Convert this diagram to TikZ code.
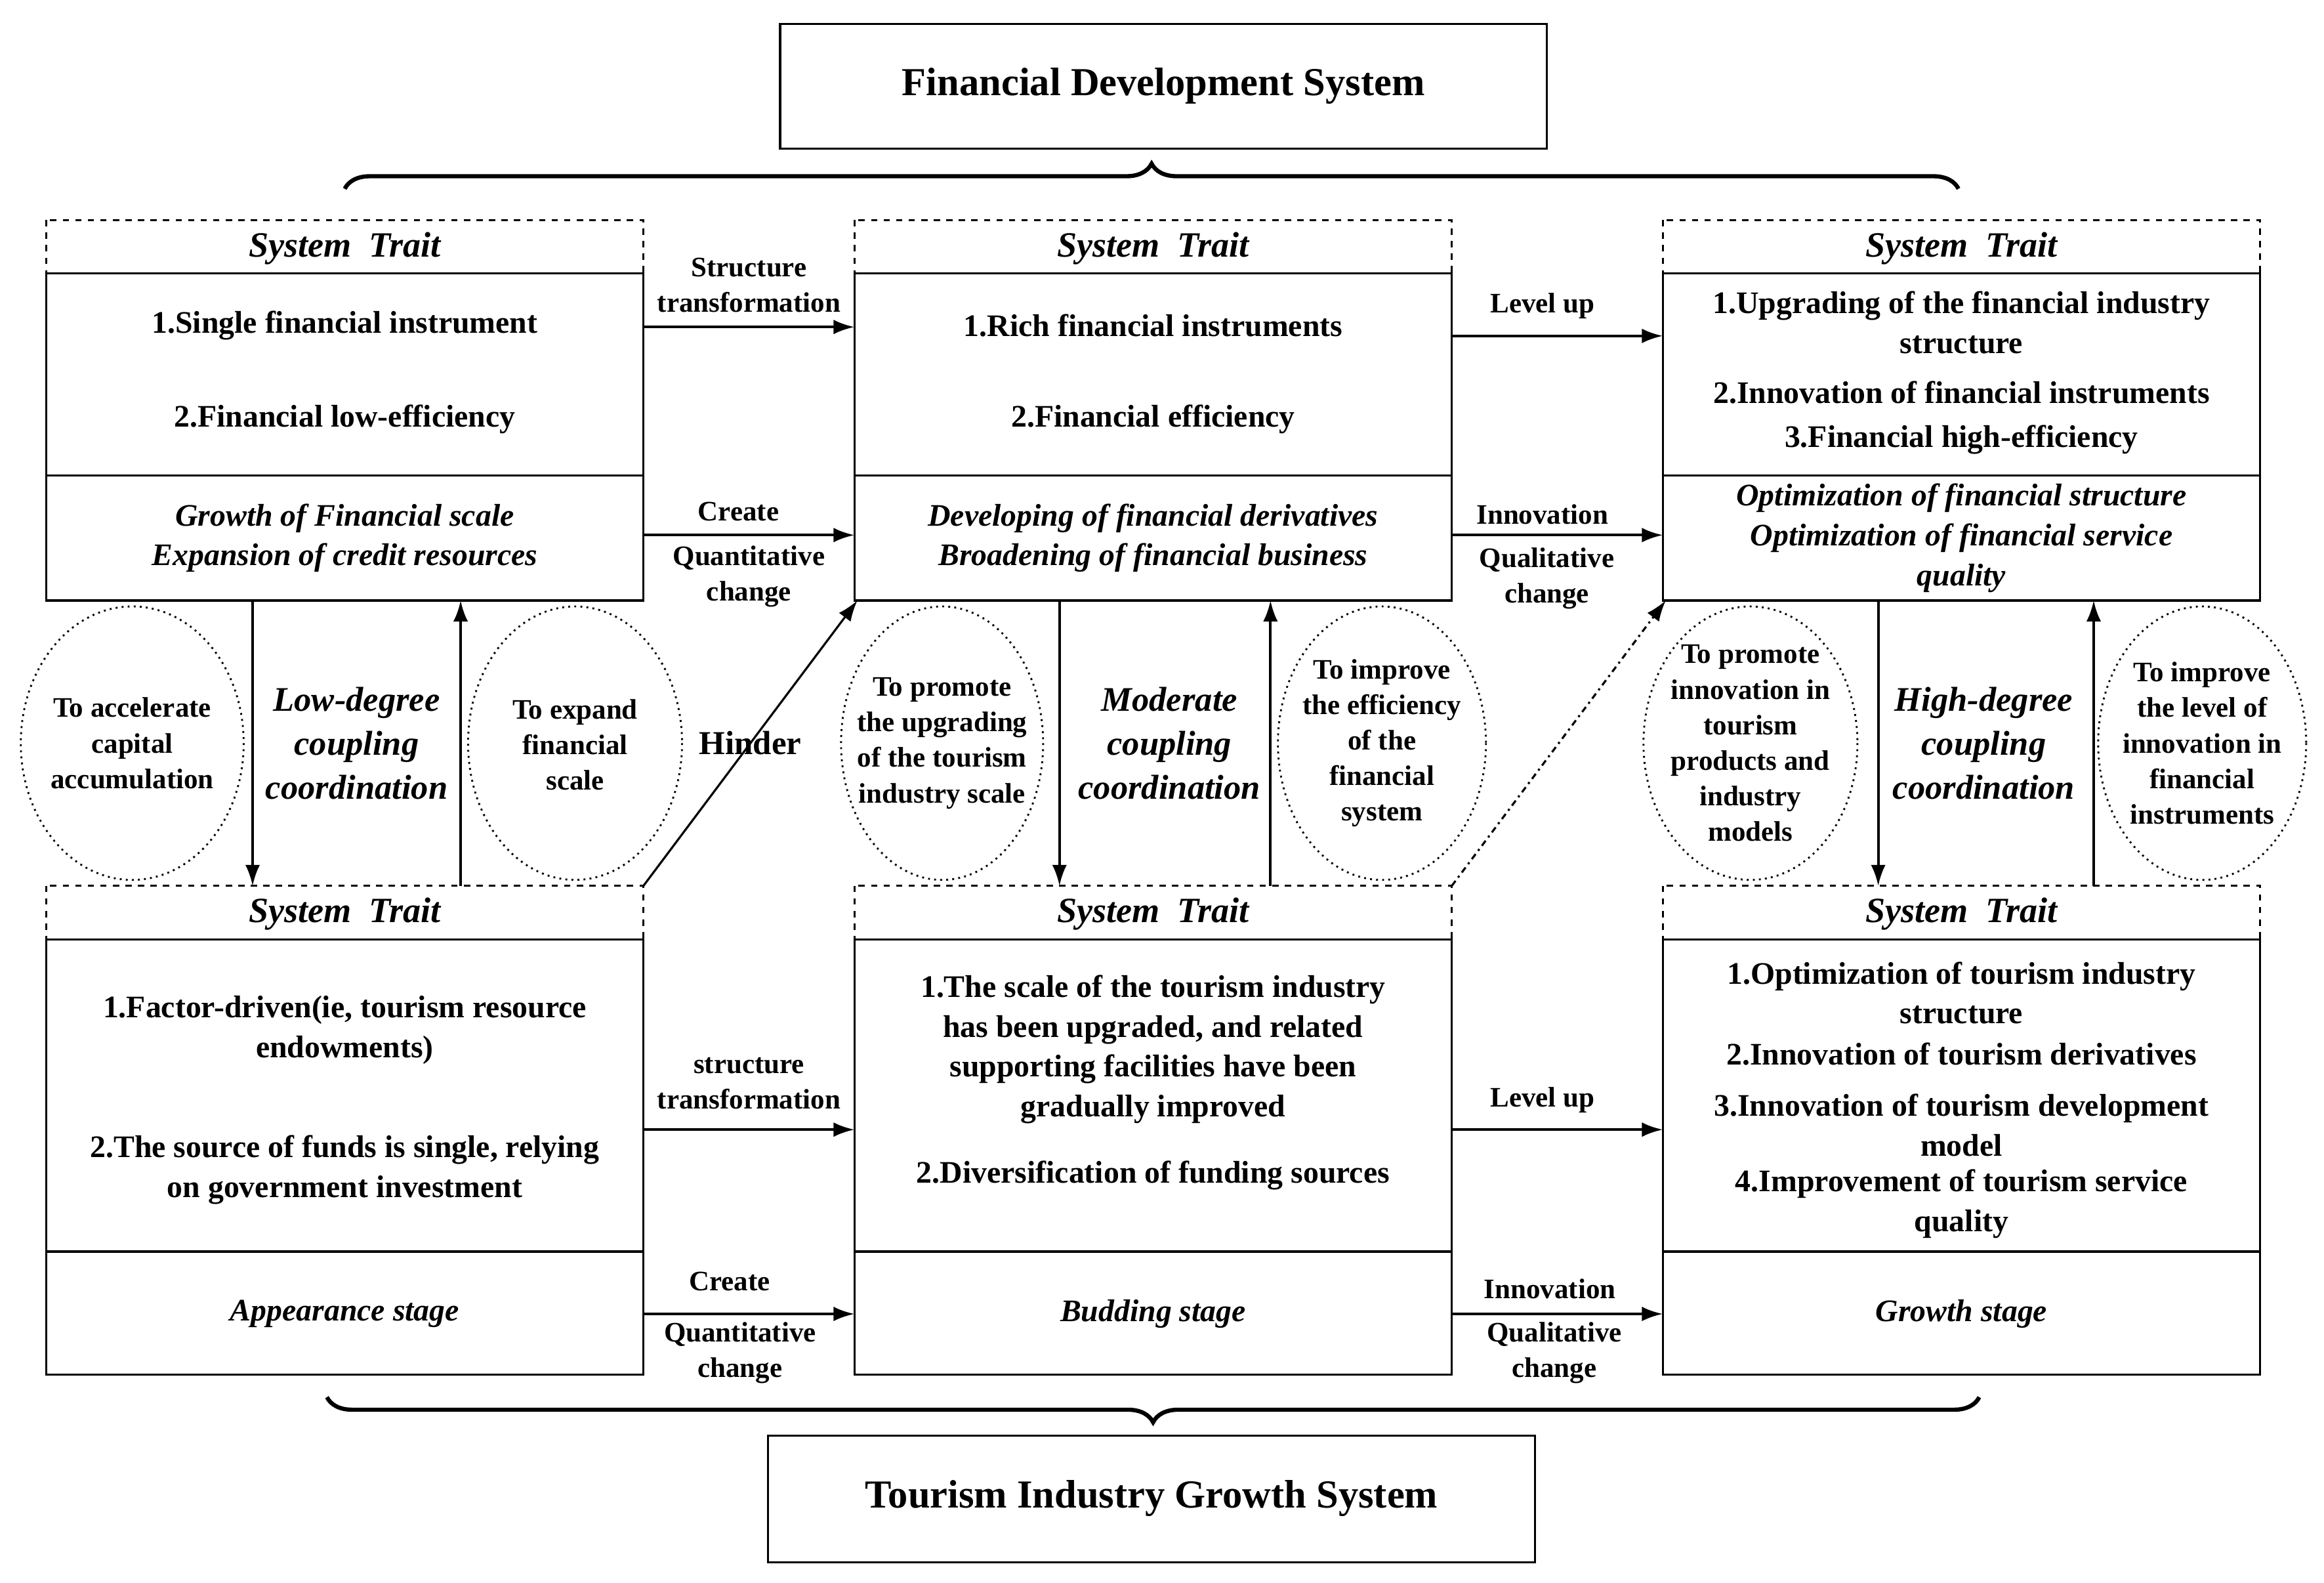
\documentclass[tikz,border=0pt]{standalone}
\usepackage{fontspec}
\setmainfont{Liberation Serif}
\usetikzlibrary{arrows.meta,decorations.pathreplacing}
\begin{document}
\begin{tikzpicture}[x=0.025cm,y=-0.025cm,
  t/.style={font=\fontsize{15}{19}\selectfont\bfseries,align=center,inner sep=0},
  ti/.style={font=\fontsize{15}{19}\selectfont\bfseries\itshape,align=center,inner sep=0},
  sm/.style={font=\fontsize{13.5}{17}\selectfont\bfseries,align=center,inner sep=0},
  hd/.style={font=\fontsize{17}{20}\selectfont\bfseries\itshape,inner sep=0},
  ar/.style={-{Latex[length=10pt,width=7pt]},line width=1.3pt},
  el/.style={draw,dotted,line width=0.9pt},
  box/.style={draw,line width=1pt}]
\useasboundingbox (0,0) rectangle (1564,1065);
% titles
\draw[box] (525,16) rectangle (1041,100);
\node[t,font=\fontsize{19}{22}\selectfont\bfseries] (fds) at (783,58) {Financial Development System};
\draw[box] (517,966) rectangle (1033,1051);
\node[t,font=\fontsize{19}{22}\selectfont\bfseries] (tig) at (775,1008) {Tourism Industry Growth System};
\draw[line width=2pt,decorate,decoration={brace,amplitude=12pt}] (232,127) -- (1318,127);
\draw[line width=2pt,decorate,decoration={brace,amplitude=12pt,mirror}] (220,940) -- (1332,940);
% boxes
\foreach \x in {31,575,1119}{
 \foreach \y/\m/\b in {148/320/404,596/842/925}{
  \draw[dashed,line width=1pt] (\x,\y) rectangle (\x+402,\y+36);
  \draw[box] (\x,\y+36) rectangle (\x+402,\b);
  \draw[box] (\x,\m) -- (\x+402,\m);
  \node[hd] at (\x+201,\y+19) {System\ \ Trait};
 }}
% top row contents
\node[t] at (232,219) {1.Single financial instrument};
\node[t] at (232,282) {2.Financial low-efficiency};
\node[ti] at (232,362) {Growth of Financial scale\\Expansion of credit resources};
\node[t] at (776,219) {1.Rich financial instruments};
\node[t] at (776,282) {2.Financial efficiency};
\node[ti] at (776,362) {Developing of financial derivatives\\Broadening of financial business};
\node[t] at (1320,217) {1.Upgrading of the financial industry\\structure};
\node[t] at (1320,264) {2.Innovation of financial instruments};
\node[t] at (1320,296) {3.Financial high-efficiency};
\node[ti] at (1320,362) {Optimization of financial structure\\Optimization of financial service\\quality};
% bottom row contents
\node[t] at (232,693) {1.Factor-driven(ie, tourism resource\\endowments)};
\node[t] at (232,787) {2.The source of funds is single, relying\\on government investment};
\node[ti] at (232,884) {Appearance stage};
\node[t] at (776,706) {1.The scale of the tourism industry\\has been upgraded, and related\\supporting facilities have been\\gradually improved};
\node[t] at (776,791) {2.Diversification of funding sources};
\node[ti] at (776,884) {Budding stage};
\node[t] at (1320,668) {1.Optimization of tourism industry\\structure};
\node[t] at (1320,709) {2.Innovation of tourism derivatives};
\node[t] at (1320,757) {3.Innovation of tourism development\\model};
\node[t] at (1320,810) {4.Improvement of tourism service\\quality};
\node[ti] at (1320,884) {Growth stage};
% horizontal arrows
\coordinate (a1) at (433,220); \coordinate (b1) at (575,220);
\draw[ar] (a1) -- (b1);
\node[sm] at (504,192) {Structure\\transformation};
\coordinate (a2) at (433,360); \coordinate (b2) at (575,360);
\draw[ar] (a2) -- (b2);
\node[sm] at (497,344) {Create};
\node[sm] at (504,388) {Quantitative\\change};
\coordinate (a3) at (977,226); \coordinate (b3) at (1119,226);
\draw[ar] (a3) -- (b3);
\node[sm] at (1038,206) {Level up};
\coordinate (a4) at (977,360); \coordinate (b4) at (1119,360);
\draw[ar] (a4) -- (b4);
\node[sm] at (1038,346) {Innovation};
\node[sm] at (1041,389) {Qualitative\\change};
\coordinate (a5) at (433,760); \coordinate (b5) at (575,760);
\draw[ar] (a5) -- (b5);
\node[sm] at (504,729) {structure\\transformation};
\coordinate (a6) at (433,884); \coordinate (b6) at (575,884);
\draw[ar] (a6) -- (b6);
\node[sm] at (491,862) {Create};
\node[sm] at (498,910) {Quantitative\\change};
\coordinate (a7) at (977,760); \coordinate (b7) at (1119,760);
\draw[ar] (a7) -- (b7);
\node[sm] at (1038,740) {Level up};
\coordinate (a8) at (977,884); \coordinate (b8) at (1119,884);
\draw[ar] (a8) -- (b8);
\node[sm] at (1043,867) {Innovation};
\node[sm] at (1046,910) {Qualitative\\change};
% vertical arrows
\foreach \d/\u in {170/310,713/855,1264/1409}{
 \draw[ar] (\d,404) -- (\d,596);
 \draw[ar] (\u,596) -- (\u,404);}
% diagonals
\coordinate (h1) at (433,596); \coordinate (h2) at (577,404);
\draw[ar,line width=1pt] (h1) -- (h2);
\coordinate (d1) at (977,596); \coordinate (d2) at (1121,404);
\draw[ar,line width=1pt,dash dot] (d1) -- (d2);
% ellipses
\draw[el] (89,500) ellipse [x radius=75,y radius=92];
\node[sm] at (89,500) {To accelerate\\capital\\accumulation};
\draw[el] (387,500) ellipse [x radius=72,y radius=92];
\node[sm] at (387,501) {To expand\\financial\\scale};
\draw[el] (634,500) ellipse [x radius=68,y radius=92];
\node[sm] at (634,500) {To promote\\the upgrading\\of the tourism\\industry scale};
\draw[el] (930,500) ellipse [x radius=70,y radius=92];
\node[sm] at (930,500) {To improve\\the efficiency\\of the\\financial\\system};
\draw[el] (1178,500) ellipse [x radius=72,y radius=92];
\node[sm] at (1178,500) {To promote\\innovation in\\tourism\\products and\\industry\\models};
\draw[el] (1482,500) ellipse [x radius=70,y radius=92];
\node[sm] at (1482,500) {To improve\\the level of\\innovation in\\financial\\instruments};
% middle labels
\node[ti,font=\fontsize{16.5}{21}\selectfont\bfseries\itshape] at (240,500) {Low-degree\\coupling\\coordination};
\node[t,font=\fontsize{16}{18}\selectfont\bfseries] at (505,500) {Hinder};
\node[ti,font=\fontsize{16.5}{21}\selectfont\bfseries\itshape] at (787,500) {Moderate\\coupling\\coordination};
\node[ti,font=\fontsize{16.5}{21}\selectfont\bfseries\itshape] at (1335,500) {High-degree\\coupling\\coordination};
\end{tikzpicture}
\end{document}
